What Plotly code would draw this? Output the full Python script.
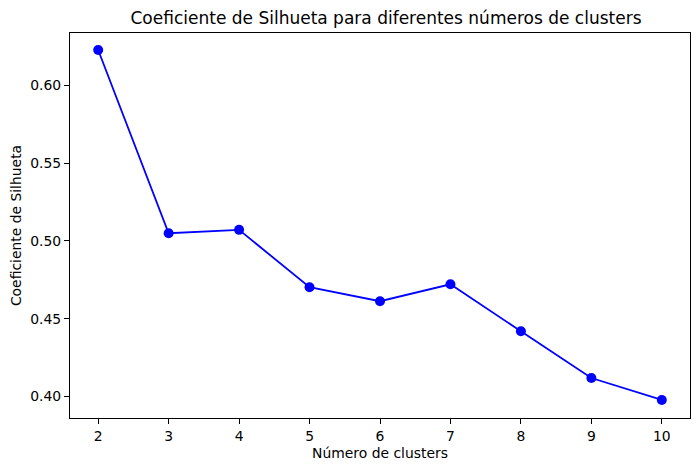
import plotly.graph_objects as go

n_clusters = [2, 3, 4, 5, 6, 7, 8, 9, 10]
silhouette = [0.6228, 0.5049, 0.5071, 0.4702, 0.4612, 0.4721, 0.4419, 0.4118, 0.3977]

y_ticks = [0.40, 0.45, 0.50, 0.55, 0.60]

fig = go.Figure()
fig.add_trace(go.Scatter(
    x=n_clusters,
    y=silhouette,
    mode="lines+markers",
    line=dict(color="#0000ff", width=1.8),
    marker=dict(color="#0000ff", size=10),
    showlegend=False,
))

axis_style = dict(
    showline=True, linecolor="black", linewidth=1, mirror=True,
    showgrid=False, zeroline=False, automargin=False,
    ticks="outside", ticklen=5, tickwidth=1, tickcolor="black",
    tickfont=dict(size=13.9, color="black"),
)

fig.update_xaxes(
    range=[1.6, 10.4], tickvals=n_clusters,
    title=dict(text="Número de clusters", font=dict(size=13.9, color="black"), standoff=5),
    **axis_style,
)
fig.update_yaxes(
    range=[0.3861, 0.6337], tickvals=y_ticks, ticktext=[f"{v:.2f}" for v in y_ticks],
    title=dict(text="Coeficiente de Silhueta", font=dict(size=13.9, color="black"), standoff=7),
    **axis_style,
)

# the page adds an 8px body margin, so the margins are offset by that amount
fig.update_layout(
    width=700, height=471,
    margin=dict(l=62, r=18, t=25, b=61),
    paper_bgcolor="white", plot_bgcolor="white",
    font=dict(family="DejaVu Sans", color="black"),
    title=dict(text="Coeficiente de Silhueta para diferentes números de clusters",
               x=0.54, xanchor="center", y=0.979, yanchor="middle",
               font=dict(size=17, color="black")),
)

fig.write_html("out.html")
